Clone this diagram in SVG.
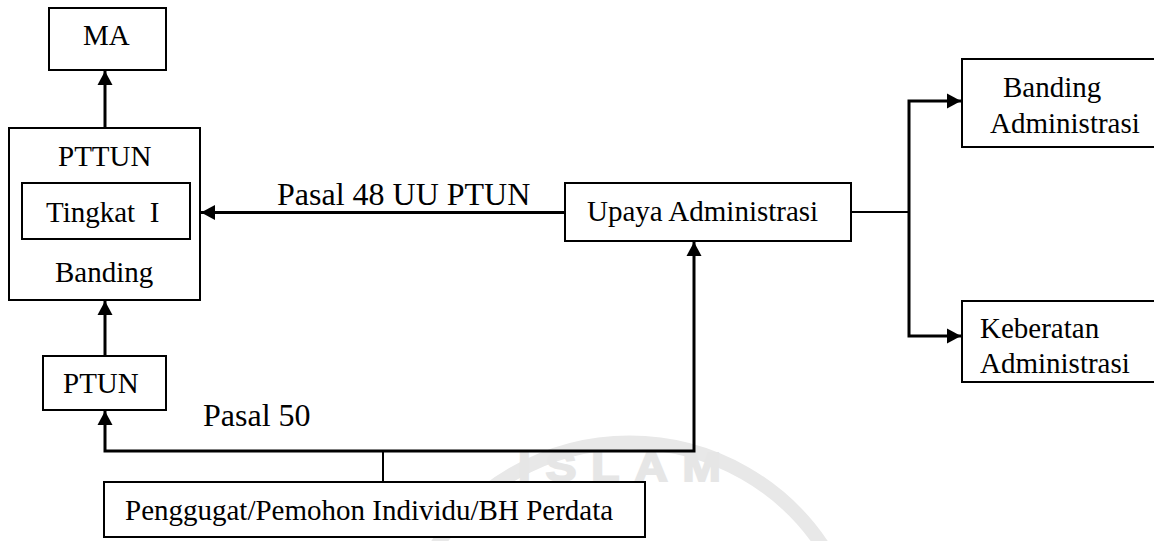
<svg xmlns="http://www.w3.org/2000/svg" width="1154" height="541" viewBox="0 0 1154 541">
<style>
.box{fill:#fff;stroke:#000;stroke-width:2}
.t{font-family:"Liberation Serif","Times New Roman","DejaVu Serif",serif;font-size:29px;fill:#000;white-space:pre}
.lbl{font-family:"Liberation Serif","Times New Roman","DejaVu Serif",serif;font-size:32px;fill:#000}
.c{fill:none;stroke:#000;stroke-width:3}
.thin{fill:none;stroke:#000;stroke-width:2}
.wm{fill:none;stroke:#e8e8e8;stroke-width:14}
</style>
<defs>
<marker id="ah" markerUnits="userSpaceOnUse" markerWidth="15" markerHeight="16" refX="14" refY="7.5" orient="auto" viewBox="0 0 15 15">
<path d="M0,0 L14,7.5 L0,15 z" fill="#000"/>
</marker>
</defs>
<rect width="1154" height="541" fill="#fff"/>
<g id="watermark">
<path class="wm" d="M437,545 A232,232 0 0 1 822,545"/>
<text x="518" y="481" font-family="'Liberation Sans',Arial,sans-serif" font-size="40" font-weight="bold" fill="#e6e6e6" stroke="#e6e6e6" stroke-width="2" letter-spacing="13" transform="translate(518,481) scale(1.15,1) translate(-518,-481)">ISLAM</text>
</g>
<g id="connectors">
<line class="c" x1="105" y1="128" x2="105" y2="71" marker-end="url(#ah)"/>
<line class="c" x1="105" y1="356" x2="105" y2="301" marker-end="url(#ah)"/>
<polyline class="c" points="383,451 105,451 105,411" marker-end="url(#ah)"/>
<polyline class="c" points="383,451 694,451 694,242" marker-end="url(#ah)"/>
<line class="thin" x1="383" y1="451" x2="383" y2="482"/>
<line class="c" x1="565" y1="212.5" x2="201" y2="212.5" marker-end="url(#ah)"/>
<line class="thin" x1="851" y1="212" x2="909" y2="212"/>
<polyline class="c" points="909,212 909,101 961,101" marker-end="url(#ah)"/>
<polyline class="c" points="909,212 909,336 961,336" marker-end="url(#ah)"/>
</g>
<g id="ma"><rect class="box" x="49" y="8" width="117" height="62"/><text class="t" x="83" y="45">MA</text></g>
<g id="pttun"><rect class="box" x="9" y="128" width="191" height="172"/><text class="t" x="58" y="166">PTTUN</text><text class="t" x="55" y="282">Banding</text></g>
<g id="tingkat"><rect class="box" x="22" y="183" width="168" height="56"/><text class="t" x="46" y="222">Tingkat  I</text></g>
<g id="ptun"><rect class="box" x="43" y="356" width="123" height="54"/><text class="t" x="63" y="393">PTUN</text></g>
<g id="penggugat"><rect class="box" x="104" y="482" width="541" height="55"/><text class="t" x="125" y="520">Penggugat/Pemohon Individu/BH Perdata</text></g>
<g id="upaya"><rect class="box" x="565" y="183" width="286" height="58"/><text class="t" x="587" y="221">Upaya Administrasi</text></g>
<g id="banding-adm"><rect class="box" x="962" y="59" width="200" height="88"/><text class="t" x="1003" y="97">Banding</text><text class="t" x="990" y="133">Administrasi</text></g>
<g id="keberatan-adm"><rect class="box" x="962" y="301" width="200" height="81"/><text class="t" x="980" y="338">Keberatan</text><text class="t" x="980" y="373">Administrasi</text></g>
<g id="labels">
<text class="lbl" x="277" y="205">Pasal 48 UU PTUN</text>
<text class="lbl" x="203" y="426">Pasal 50</text>
</g>
</svg>
